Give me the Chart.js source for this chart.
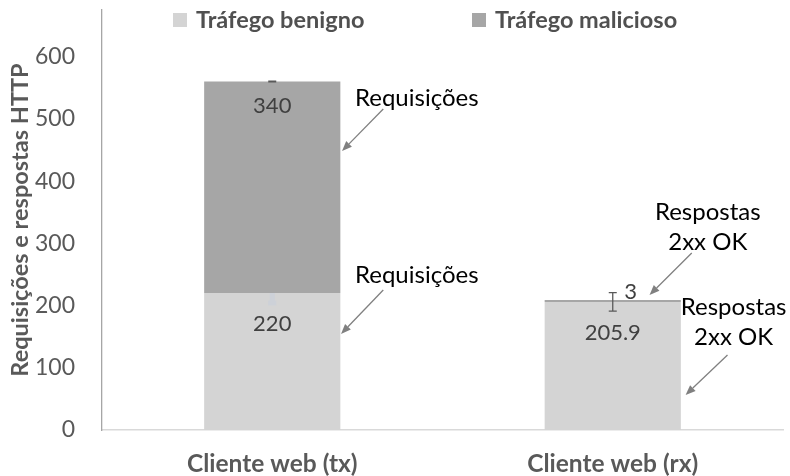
<!DOCTYPE html>
<html>
<head>
<meta charset="utf-8">
<script src="https://cdn.jsdelivr.net/npm/chart.js@4/dist/chart.umd.min.js"></script>
<style>
  html, body { margin: 0; padding: 0; background: #fff; }
  #wrap { width: 790px; height: 476px; }
</style>
</head>
<body>
<div id="wrap"><canvas id="c" width="790" height="476"></canvas></div>
<script>
const FONT = 'Lato, "Open Sans", sans-serif';

// --- Data ---
const categories  = ['Cliente web (tx)', 'Cliente web (rx)'];
const seriesNames = ['Tráfego benigno', 'Tráfego malicioso'];
const benign      = [220, 205.9];
const malicious   = [340, 3];
const benignErr   = [16, 15];
const maliciousErr = [0.5, 0];
const valueLabels = [['220', '205.9'], ['340', '3']];
const yMax = 675, yStep = 100, yLabelMax = 600;

// callouts: text lines, text anchor (category units, value), arrow from/to
const calloutText  = [['Requisições'], ['Requisições'], ['Respostas', '2xx OK'], ['Respostas', '2xx OK']];
const calloutAt    = [[0.243, 533.6], [0.243, 249.1], [1.279, 350.4], [1.355, 197.7]];
const calloutAlign = ['left', 'left', 'center', 'center'];
const arrowFrom    = [[0.326, 515.9], [0.326, 225.0], [1.232, 284.5], [1.337, 120.5]];
const arrowTo      = [[0.205, 448.4], [0.202, 154.3], [1.108, 217.0], [1.214, 56.3]];

// --- Styles ---
const colors = ['#d4d4d4', '#a6a6a6'];
const benignErrColors = ['#cdd1d8', '#595959'];
const textGray = '#595959';

function catPx(chart, u) {
  const x = chart.scales.x;
  const p0 = x.getPixelForValue(0), p1 = x.getPixelForValue(1);
  return p0 + u * (p1 - p0);
}

function drawErr(ctx, x, yTop, yBot, color, w) {
  ctx.strokeStyle = color;
  ctx.lineWidth = w;
  ctx.beginPath();
  ctx.moveTo(x, yTop); ctx.lineTo(x, yBot);
  ctx.moveTo(x - 4, yTop); ctx.lineTo(x + 4, yTop);
  ctx.moveTo(x - 4, yBot); ctx.lineTo(x + 4, yBot);
  ctx.stroke();
}

const extras = {
  id: 'extras',
  afterDatasetDraw(chart, args) {
    // dataset 0 is drawn last (on top); draw error bars here
    if (args.index !== 0) return;
    const { ctx, scales } = chart;
    const y = scales.y;
    const top = chart.getDatasetMeta(1).data;
    ctx.save();
    // clip away tall malicious segments so they hide the benign error bar
    ctx.beginPath();
    ctx.rect(0, 0, chart.width, chart.height);
    top.forEach(b => {
      if (b.base - b.y > 6) ctx.rect(b.x + b.width / 2, b.y, -b.width, b.base - b.y);
    });
    ctx.clip('evenodd');
    chart.getDatasetMeta(0).data.forEach((b, i) => {
      const v = benign[i];
      drawErr(ctx, b.x, y.getPixelForValue(v + benignErr[i]), y.getPixelForValue(v - benignErr[i]),
        benignErrColors[i], i === 0 ? 5 : 1.3);
    });
    ctx.restore();
    ctx.save();
    top.forEach((b, i) => {
      if (!maliciousErr[i]) return;
      const v = benign[i] + malicious[i];
      drawErr(ctx, b.x, y.getPixelForValue(v + maliciousErr[i]), y.getPixelForValue(v - maliciousErr[i]), textGray, 1.3);
    });
    ctx.restore();
  },
  afterDatasetsDraw(chart) {
    const { ctx, scales } = chart;
    ctx.save();
    // value labels
    ctx.font = '22px ' + FONT;
    ctx.fillStyle = '#404040';
    ctx.textBaseline = 'middle';
    ctx.textAlign = 'center';
    [0, 1].forEach(d => {
      chart.getDatasetMeta(d).data.forEach((b, i) => {
        const h = b.base - b.y;
        if (h < 20) ctx.fillText(valueLabels[d][i], b.x + 18, b.y - 8);
        else ctx.fillText(valueLabels[d][i], b.x, b.y + (d === 1 ? 24 : 31));
      });
    });
    // callouts
    ctx.font = '24px ' + FONT;
    ctx.fillStyle = '#000';
    calloutText.forEach((lines, k) => {
      const px = catPx(chart, calloutAt[k][0]);
      const py = scales.y.getPixelForValue(calloutAt[k][1]);
      ctx.textAlign = calloutAlign[k];
      lines.forEach((t, j) => ctx.fillText(t, px, py + j * 30));
    });
    ctx.strokeStyle = '#808080';
    ctx.fillStyle = '#808080';
    ctx.lineWidth = 1.3;
    arrowFrom.forEach((f, k) => {
      const x1 = catPx(chart, f[0]), y1 = scales.y.getPixelForValue(f[1]);
      const x2 = catPx(chart, arrowTo[k][0]), y2 = scales.y.getPixelForValue(arrowTo[k][1]);
      const a = Math.atan2(y2 - y1, x2 - x1);
      const hl = 10, hw = 4;
      const bx = x2 - hl * Math.cos(a), by = y2 - hl * Math.sin(a);
      ctx.beginPath();
      ctx.moveTo(x1, y1); ctx.lineTo(bx, by); ctx.stroke();
      ctx.beginPath();
      ctx.moveTo(x2, y2);
      ctx.lineTo(bx + hw * Math.sin(a), by - hw * Math.cos(a));
      ctx.lineTo(bx - hw * Math.sin(a), by + hw * Math.cos(a));
      ctx.closePath(); ctx.fill();
    });
    ctx.restore();
  },
  afterDraw(chart) {
    // legend, overlapping the plot top like the original
    const { ctx } = chart;
    const xs = [173, 472];
    ctx.save();
    ctx.font = 'bold 23.5px ' + FONT;
    ctx.textBaseline = 'middle';
    ctx.textAlign = 'left';
    chart.data.datasets.forEach((ds, i) => {
      ctx.fillStyle = ds.backgroundColor;
      ctx.fillRect(xs[i], 13, 14, 14);
      ctx.fillStyle = '#505050';
      ctx.fillText(ds.label, xs[i] + 23, 20);
    });
    ctx.restore();
  }
};

new Chart(document.getElementById('c'), {
  type: 'bar',
  data: {
    labels: categories,
    datasets: [
      { label: seriesNames[0], data: benign, backgroundColor: colors[0], barPercentage: 0.4, categoryPercentage: 1 },
      { label: seriesNames[1], data: malicious, backgroundColor: colors[1], barPercentage: 0.4, categoryPercentage: 1 }
    ]
  },
  options: {
    responsive: false,
    animation: false,
    events: [],
    layout: { padding: { top: 10, right: 7, bottom: 0, left: 0 } },
    plugins: { legend: { display: false }, tooltip: { enabled: false } },
    scales: {
      x: {
        stacked: true,
        grid: { display: false, drawTicks: false },
        border: { display: true, color: '#d9d9d9', width: 1.5 },
        ticks: { color: textGray, font: { family: FONT, size: 24.5, weight: 'bold' }, padding: 19 },
        afterFit: s => { s.height = 46; s.paddingLeft = 0; s.paddingRight = 0; }
      },
      y: {
        stacked: true,
        min: 0,
        max: yMax,
        grid: { display: false, drawTicks: false },
        border: { display: true, color: '#a6a6a6', width: 1.3 },
        ticks: {
          stepSize: yStep,
          color: textGray,
          padding: 27,
          font: { family: FONT, size: 23 },
          callback: v => (v % yStep === 0 && v <= yLabelMax) ? v : ''
        },
        title: {
          display: true,
          text: 'Requisições e respostas HTTP',
          color: textGray,
          font: { family: FONT, size: 23.5, weight: 'bold' },
          padding: { top: 6, bottom: 0 }
        },
        afterFit: s => { s.width = 102; s.paddingTop = 0; s.paddingBottom = 0; }
      }
    }
  },
  plugins: [extras]
});
</script>
</body>
</html>
